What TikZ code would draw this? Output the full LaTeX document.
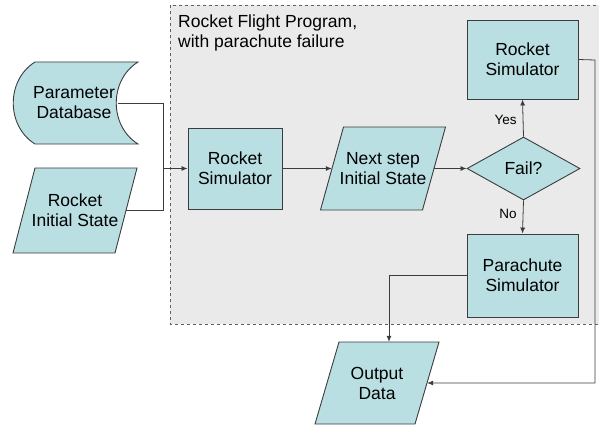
\documentclass[tikz,border=0pt]{standalone}
\usepackage{fontspec}
\setmainfont{Liberation Sans}
\usetikzlibrary{shapes.geometric,arrows.meta}

\definecolor{boxfill}{HTML}{B9DFE2}
\definecolor{boxline}{HTML}{3C3C3C}
\definecolor{groupfill}{HTML}{EAEAEA}
\definecolor{groupline}{HTML}{606060}

\tikzset{
  shapefill/.style={fill=boxfill, draw=boxline, line width=0.9pt},
  label/.style={font=\fontsize{17.5}{20}\selectfont, align=center, inner sep=0pt},
  procbox/.style={shapefill, label, rectangle},
  decision/.style={shapefill, label, diamond, aspect=1.79, inner sep=0pt},
  conn/.style={draw=boxline, line width=0.8pt},
  arr/.style={conn, -{Latex[length=6pt,width=5pt]}},
  branch/.style={font=\fontsize{13.5}{15}\selectfont, inner sep=0pt},
}

% parallelogram: name, centre x, centre y, width, height, half slant, text
\newcommand{\iobox}[7]{%
  \path[shapefill] (#2-#4/2+#6,#3-#5/2) -- (#2+#4/2+#6,#3-#5/2)
    -- (#2+#4/2-#6,#3+#5/2) -- (#2-#4/2-#6,#3+#5/2) -- cycle;
  \node[label, minimum width=#4, minimum height=#5] (#1) at (#2,#3) {#7};
}

\begin{document}
\begin{tikzpicture}[x=1pt, y=-1pt]
  \useasboundingbox (0,0) rectangle (599,425);
  \clip (0,0) rectangle (599,425);

  % program group
  \path[fill=groupfill, draw=groupline, dashed, line width=0.7pt]
    (170,5) rectangle (610,324);
  \node[anchor=north west, align=left, inner sep=0pt,
        font=\fontsize{17.5}{20}\selectfont] (title) at (178,15)
    {Rocket Flight Program,\\with parachute failure};

  % parameter database (stored data)
  \path[shapefill] (35,62) -- (138,62)
    .. controls (109,80) and (109,126) .. (138,144)
    -- (35,144)
    .. controls (6,126) and (6,80) .. (35,62) -- cycle;
  \node[label, minimum width=88, minimum height=82] (db) at (74,103)
    {Parameter\\Database};

  % inputs
  \iobox{ris}{75}{210.5}{102}{85}{11}{Rocket\\Initial State}

  % main loop
  \node[procbox, minimum width=94, minimum height=81] (rs1) at (235,168.5)
    {Rocket\\Simulator};
  \iobox{ns}{383}{168.5}{102}{83}{11.5}{Next step\\Initial State}
  \node[decision, minimum width=113, minimum height=63] (fail) at (523.5,168.5)
    {Fail?};
  \node[procbox, minimum width=111, minimum height=79] (rs2) at (522.5,59.5)
    {Rocket\\Simulator};
  \node[procbox, minimum width=111, minimum height=83] (par) at (522.5,275.5)
    {Parachute\\Simulator};

  % output
  \iobox{out}{377}{383}{100}{82}{12}{Output\\Data}

  % connectors
  \coordinate (join) at (163,168.5);
  \draw[conn] (db.east) -| (join);
  \draw[conn] (ris.east) -| (join);
  \draw[arr] (join) -- (rs1.west);
  \draw[arr] (rs1.east) -- (ns.west);
  \draw[arr] (ns.east) -- (fail.west);
  \draw[arr] (fail.north) -- (rs2.south)
    node[branch, pos=0.45, left=6pt] (yes) {Yes};
  \draw[arr] (fail.south) -- (par.north)
    node[branch, pos=0.4, left=6pt] (no) {No};
  \coordinate (loopx) at (595,60);
  \draw[arr] (rs2.east) -- (loopx) |- (out.east);
  \draw[arr] (par.west) -| ([xshift=12]out.north);
\end{tikzpicture}
\end{document}
